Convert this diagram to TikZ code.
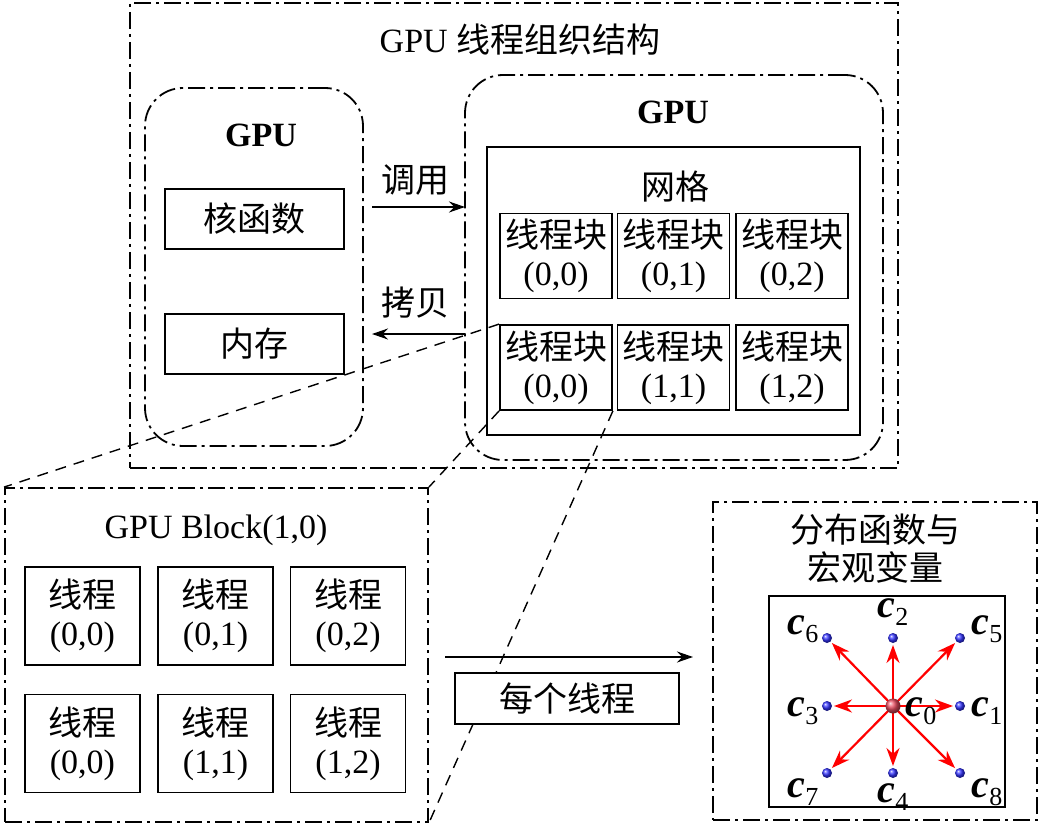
\documentclass[tikz,border=0pt]{standalone}
\usepackage{fontspec}
\setmainfont{Liberation Serif}
\newfontfamily\cjk{Noto Sans CJK SC}
\usetikzlibrary{arrows.meta}
\newcommand{\cvar}[1]{\textbf{\textit{c}}\raisebox{-8pt}{\fontsize{26}{26}\selectfont #1}}
\begin{document}
\begin{tikzpicture}[x=1pt,y=-1pt,
  font=\fontsize{34}{38}\selectfont,
  dashdot/.style={draw, line width=1.8pt, dash pattern=on 17pt off 5pt on 3pt off 5pt, rectangle, inner sep=0pt},
  rdashdot/.style={dashdot, rounded corners=38pt},
  sbox/.style={draw, line width=1.8pt, rectangle, inner sep=0pt, align=center},
  proj/.style={line width=1.4pt, dash pattern=on 11pt off 8pt},
  arr/.style={line width=1.8pt, -{Stealth[length=16pt,width=11pt]}},
  rarr/.style={line width=2.2pt, red, -{Stealth[length=18pt,width=13pt]}, shorten >=7pt, shorten <=6pt},
  dot/.style={circle, inner sep=0pt, minimum size=10pt, shading=ball, ball color=blue!80},
  cdot/.style={circle, inner sep=0pt, minimum size=15pt, shading=ball, ball color=red!55!purple!70},
  lab/.style={inner sep=0pt}
]
\useasboundingbox (0,0) rectangle (1041,829);
% outer
\node[dashdot, minimum width=768pt, minimum height=465pt] (outer) at (514,235.5) {};
\node[lab] (outtitle) at (520,40) {GPU {\cjk 线程组织结构}};
% left GPU
\node[rdashdot, minimum width=218pt, minimum height=358pt] (lgpu) at (254,267) {};
\node[lab] (lgputitle) at (261,135) {\textbf{GPU}};
\node[sbox, minimum width=179pt, minimum height=60pt] (kern) at (254.5,219) {\cjk 核函数};
\node[sbox, minimum width=179pt, minimum height=60pt] (mem) at (254.5,344) {\cjk 内存};
% right GPU
\node[rdashdot, minimum width=418pt, minimum height=385pt] (rgpu) at (674,267.5) {};
\node[lab] (rgputitle) at (673,112) {\textbf{GPU}};
\node[sbox, minimum width=373pt, minimum height=288pt] (grid) at (673.5,291) {};
\node[lab] (gridtitle) at (675,187) {\cjk 网格};
\foreach \n/\x/\y/\t in {b00/556/256/{(0,0)}, b01/673.5/256/{(0,1)}, b02/792/256/{(0,2)},
                          b10/556/367.5/{(0,0)}, b11/673.5/367.5/{(1,1)}, b12/792/367.5/{(1,2)}}
  \node[sbox, minimum width=112pt, minimum height=85pt] (\n) at (\x,\y) {{\cjk 线程块}\\\t};
% call / copy arrows
\coordinate (callA) at (372,207);
\coordinate (callB) at (465,207);
\coordinate (copyA) at (465,334);
\coordinate (copyB) at (372,334);
\draw[arr] (callA) -- (callB);
\draw[arr] (copyA) -- (copyB);
\node[lab] (calllab) at (415,180) {\cjk 调用};
\node[lab] (copylab) at (415,303) {\cjk 拷贝};
% GPU block
\node[dashdot, minimum width=423pt, minimum height=334pt] (gb) at (216.5,655) {};
\node[lab] (gbtitle) at (216,530) {GPU Block(1,0)};
\foreach \n/\x/\y/\t in {t00/82.5/616/{(0,0)}, t01/215.5/616/{(0,1)}, t02/348/616/{(0,2)},
                          t10/82.5/743.5/{(0,0)}, t11/215.5/743.5/{(1,1)}, t12/348/743.5/{(1,2)}}
  \node[sbox, minimum width=115pt, minimum height=98pt] (\n) at (\x,\y) {{\cjk 线程}\\\t};
% projection lines
\draw[proj] (b10.north west) -- (gb.north west);
\draw[proj] (b10.south west) -- (gb.north east);
\draw[proj] (b10.south east) -- (gb.south east);
% each thread arrow
\coordinate (eachA) at (445,657);
\coordinate (eachB) at (693,657);
\draw[arr] (eachA) -- (eachB);
\node[sbox, minimum width=224pt, minimum height=51pt, fill=white] (each) at (567,698.5) {\cjk 每个线程};
% right box
\node[dashdot, minimum width=324pt, minimum height=318pt] (rb) at (875,661) {};
\node[lab, align=center, font=\fontsize{34}{38}\selectfont] (rbtitle) at (875,549) {\cjk 分布函数与\\\cjk 宏观变量};
\node[sbox, minimum width=236pt, minimum height=211pt] (inner) at (887,701.5) {};
% lattice
\coordinate (p0) at (893,706);
\foreach \n/\x/\y in {p1/960/706, p2/893/638, p3/827/706, p4/893/773, p5/960/638, p6/827/638, p7/827/773, p8/960/773}
  \coordinate (\n) at (\x,\y);
\foreach \i in {1,...,8} \draw[rarr] (p0) -- (p\i);
\foreach \i in {1,...,8} \node[dot] (d\i) at (p\i) {};
\node[cdot] (d0) at (p0) {};
\begin{scope}[font=\fontsize{40}{40}\selectfont]
\node[lab] (l0) at (921,711) {\cvar{0}};
\node[lab] (l1) at (987,711) {\cvar{1}};
\node[lab] (l3) at (803,711) {\cvar{3}};
\node[lab] (l2) at (893,612) {\cvar{2}};
\node[lab] (l4) at (893,797) {\cvar{4}};
\node[lab] (l5) at (987,629) {\cvar{5}};
\node[lab] (l6) at (803,629) {\cvar{6}};
\node[lab] (l7) at (803,792) {\cvar{7}};
\node[lab] (l8) at (987,792) {\cvar{8}};
\end{scope}
\end{tikzpicture}
\end{document}
